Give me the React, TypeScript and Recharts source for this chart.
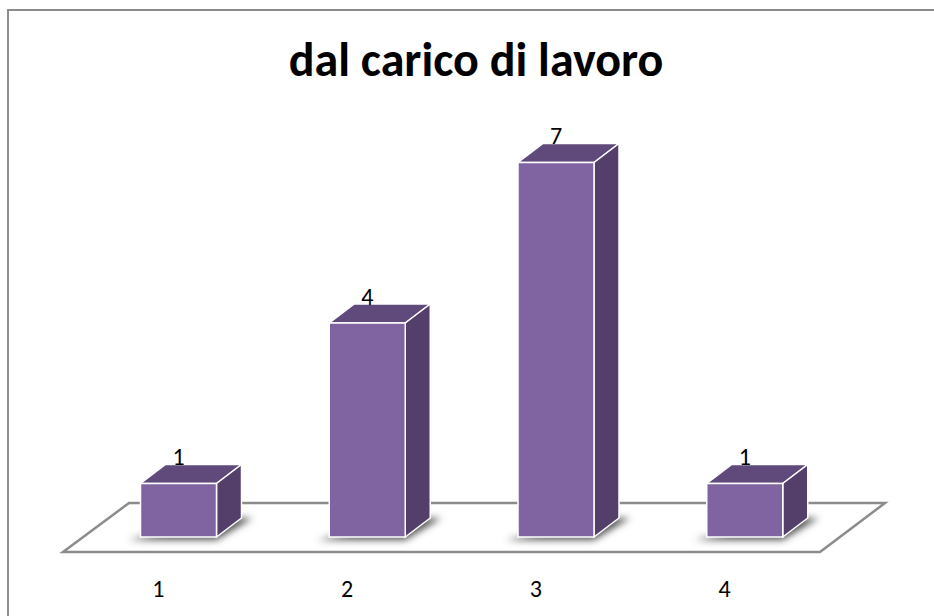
import { BarChart, Bar, XAxis, YAxis, LabelList } from "recharts"

const categories = ["1", "2", "3", "4"]
const values = [1, 4, 7, 1]
const title = "dal carico di lavoro"

const data = categories.map((name, i) => ({ name, value: values[i] }))

const FONT = "Carlito, Calibri, Lato, 'Open Sans', sans-serif"
const DX = 25
const DY = 19

function Bar3D(props: any) {
  const { x, y, width, height } = props
  const r = x + width
  const b = y + height
  return (
    <g>
      <polygon
        points={`${x - 12},${b + 3} ${r},${b + 3} ${r + DX + 11},${b - DY} ${r + 6},${b - DY}`}
        fill="#555"
        filter="url(#floorShadow)"
      />
      <polygon
        points={`${x},${y} ${x + DX},${y - DY} ${r + DX},${y - DY} ${r},${y}`}
        fill="#604a7b"
        stroke="#fff"
        strokeWidth={1.5}
      />
      <polygon
        points={`${r},${y} ${r + DX},${y - DY} ${r + DX},${b - DY} ${r},${b}`}
        fill="#533f69"
        stroke="#fff"
        strokeWidth={1.5}
      />
      <rect x={x} y={y} width={width} height={height} fill="#8064a2" stroke="#fff" strokeWidth={1.5} />
    </g>
  )
}

function AxisTick(props: any) {
  const { x, y, payload } = props
  return (
    <text x={x - 20} y={y + 43} textAnchor="middle" dominantBaseline="central" fontSize={24} fontFamily={FONT} fill="#000">
      {payload.value}
    </text>
  )
}

function TopLabel(props: any) {
  const { x, y, width, value } = props
  return (
    <text x={x + width / 2} y={y - 27} textAnchor="middle" dominantBaseline="central" fontSize={24} fontFamily={FONT} fill="#000">
      {value}
    </text>
  )
}

export default function App() {
  return (
    <div style={{ position: "absolute", left: 0, top: 0, width: 934, height: 616, background: "#fff", overflow: "hidden" }}>
      <style>{"body{margin:0}"}</style>
      <div
        style={{
          position: "absolute",
          left: 7,
          top: 9,
          width: 927,
          height: 607,
          borderTop: "2px solid #8c8c8c",
          borderLeft: "2px solid #8c8c8c",
          boxSizing: "border-box",
        }}
      />
      <div
        style={{
          position: "absolute",
          left: 0,
          width: 952,
          top: 28,
          textAlign: "center",
          fontSize: 48,
          fontWeight: 700,
          fontFamily: FONT,
          lineHeight: "64px",
          color: "#000",
        }}
      >
        {title}
      </div>
      <BarChart
        width={934}
        height={616}
        data={data}
        barCategoryGap={56.5}
        margin={{ top: 109, right: 95, bottom: 0, left: 84 }}
        style={{ position: "absolute", left: 0, top: 0 }}
      >
        <defs>
          <filter id="floorShadow" x="-30%" y="-50%" width="160%" height="200%">
            <feGaussianBlur stdDeviation="3.5" />
          </filter>
        </defs>
        <polygon points="63,552 129,503 885,503 820,552" fill="#fff" stroke="#8c8c8c" strokeWidth={2.5} />
        <XAxis dataKey="name" axisLine={false} tickLine={false} tick={<AxisTick />} height={79} />
        <YAxis hide domain={[0, 8]} />
        <Bar dataKey="value" shape={<Bar3D />} isAnimationActive={false}>
          <LabelList dataKey="value" content={<TopLabel />} />
        </Bar>
      </BarChart>
    </div>
  )
}
